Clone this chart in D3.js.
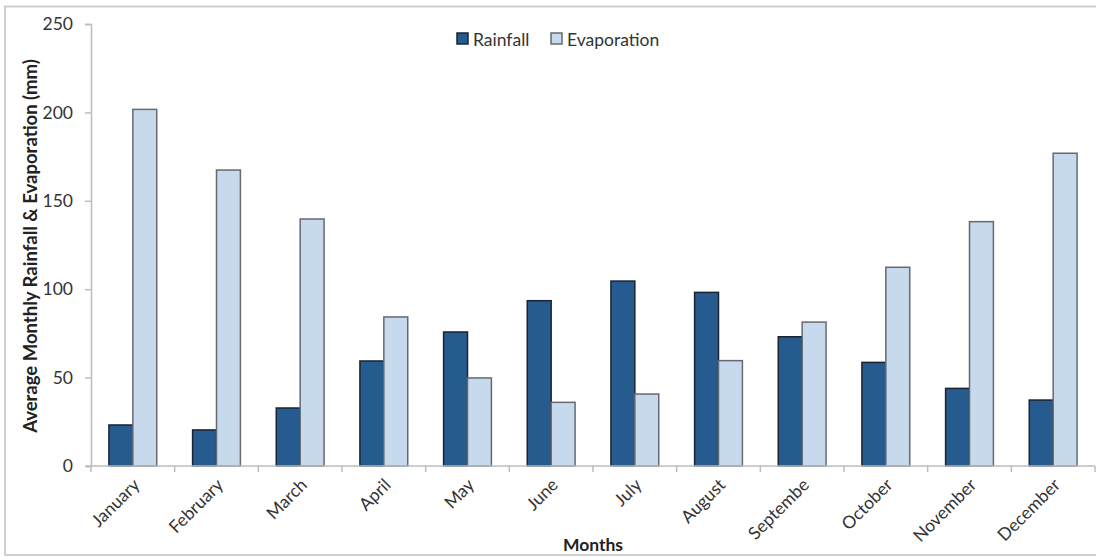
<!DOCTYPE html>
<html>
<head>
<meta charset="utf-8">
<script src="https://cdn.jsdelivr.net/npm/d3@7"></script>
<style>
  html, body { margin: 0; padding: 0; background: #fff; }
  svg { display: block; font-family: Lato, "Open Sans", "Liberation Sans", sans-serif; }
</style>
</head>
<body>
<svg id="chart" width="1096" height="557"></svg>
<script>
// Monthly averages (mm)
const months = ["January", "February", "March", "April", "May", "June", "July",
                "August", "Septembe", "October", "November", "December"];
const rainfall    = [23.2, 20.4, 32.8, 59.4, 75.8, 93.5, 104.6, 98.2, 73.1, 58.6, 43.9, 37.3];
const evaporation = [201.7, 167.4, 139.7, 84.3, 49.8, 36.0, 40.7, 59.6, 81.4, 112.4, 138.2, 176.9];
const seriesNames = ["Rainfall", "Evaporation"];
const yTicks = [0, 50, 100, 150, 200, 250];

const colors = { Rainfall: "#265b8f", Evaporation: "#c6d9ed" };
const strokes = { Rainfall: "#1b2430", Evaporation: "#656a70" };
const fontSize = "17.5px";

const svg = d3.select("#chart");
const W = 1096;
const m = { left: 91, right: 1095, top: 24, bottom: 466 };

// outer frame
svg.append("rect")
  .attr("x", 5).attr("y", 6.5)
  .attr("width", W + 10).attr("height", 548.5)
  .attr("fill", "none").attr("stroke", "#cfcfcf").attr("stroke-width", 2);

const x0 = d3.scaleBand().domain(months).range([m.left, m.right]).paddingInner(0).paddingOuter(0);
// gap between groups is 1.5x a single bar width
const x1 = d3.scaleBand().domain(seriesNames).range([0, x0.bandwidth()]).paddingInner(0).paddingOuter(0.75);
const y = d3.scaleLinear().domain([0, 250]).range([m.bottom, m.top]);

const axisColor = "#bdbdbd";

// y axis
const yAxis = svg.append("g").attr("transform", `translate(${m.left},0)`)
  .call(d3.axisLeft(y).tickValues(yTicks).tickSize(6).tickPadding(12));
yAxis.select(".domain").attr("stroke", axisColor).attr("stroke-width", 1.5);
yAxis.selectAll(".tick line").attr("stroke", axisColor).attr("stroke-width", 1.5);
yAxis.selectAll(".tick text")
  .attr("fill", "#333").style("font-size", fontSize).style("font-family", "Lato, sans-serif");

// bars
const data = months.map((mo, i) => ({ month: mo, Rainfall: rainfall[i], Evaporation: evaporation[i] }));
const groups = svg.append("g").selectAll("g").data(data).join("g")
  .attr("transform", d => `translate(${x0(d.month)},0)`);
groups.selectAll("rect")
  .data(d => seriesNames.map(k => ({ key: k, value: d[k] })))
  .join("rect")
  .attr("x", d => x1(d.key))
  .attr("y", d => y(d.value))
  .attr("width", x1.bandwidth())
  .attr("height", d => y(0) - y(d.value))
  .attr("fill", d => colors[d.key])
  .attr("stroke", d => strokes[d.key])
  .attr("stroke-width", 1.5);

// x axis with ticks on category boundaries
const xg = svg.append("g");
xg.append("line")
  .attr("x1", m.left - 5).attr("x2", m.right)
  .attr("y1", y(0)).attr("y2", y(0))
  .attr("stroke", axisColor).attr("stroke-width", 1.5);
const bounds = months.map(mo => x0(mo)).concat([m.right]);
xg.selectAll("line.tk").data(bounds).join("line")
  .attr("class", "tk")
  .attr("x1", d => d).attr("x2", d => d)
  .attr("y1", y(0)).attr("y2", y(0) + 6)
  .attr("stroke", axisColor).attr("stroke-width", 1.5);
xg.selectAll("text").data(months).join("text")
  .attr("transform", d => `translate(${x0(d) + x0.bandwidth() / 2 + 8},${y(0) + 20}) rotate(-45)`)
  .attr("text-anchor", "end")
  .attr("fill", "#333")
  .style("font-size", fontSize)
  .text(d => d);

// axis titles
svg.append("text")
  .attr("x", (m.left + m.right) / 2).attr("y", 551)
  .attr("text-anchor", "middle")
  .attr("fill", "#222").style("font-size", fontSize).style("font-weight", "bold")
  .text("Months");
svg.append("text")
  .attr("transform", `translate(37,246) rotate(-90)`)
  .attr("text-anchor", "middle")
  .attr("fill", "#222").style("font-size", "18.5px").style("font-weight", "bold")
  .text("Average Monthly Rainfall & Evaporation (mm)");

// legend
const legend = svg.append("g");
const legendPos = [{ key: "Rainfall", x: 457 }, { key: "Evaporation", x: 551 }];
legendPos.forEach(p => {
  legend.append("rect")
    .attr("x", p.x).attr("y", 33).attr("width", 11).attr("height", 11)
    .attr("fill", colors[p.key]).attr("stroke", strokes[p.key]).attr("stroke-width", 1.5);
  legend.append("text")
    .attr("x", p.x + 16).attr("y", 45.5)
    .attr("fill", "#333").style("font-size", fontSize)
    .text(p.key);
});
</script>
</body>
</html>
